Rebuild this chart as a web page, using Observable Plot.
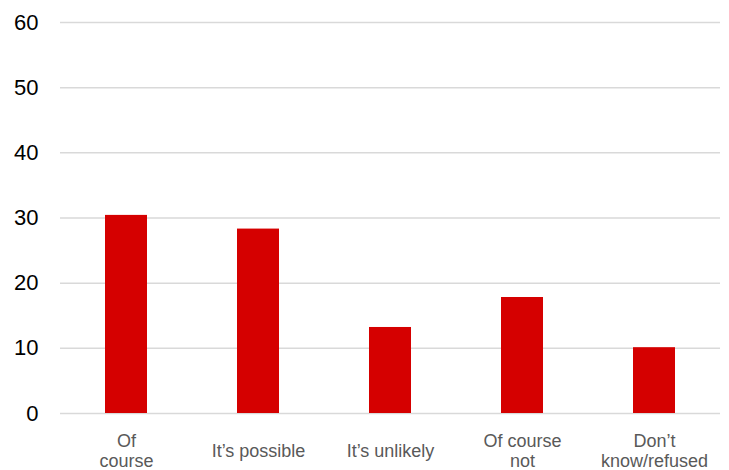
<!DOCTYPE html>
<html>
<head>
<meta charset="utf-8">
<script src="https://cdn.jsdelivr.net/npm/d3@7"></script>
<script src="https://cdn.jsdelivr.net/npm/@observablehq/plot@0.6"></script>
<style>
  html, body { margin: 0; padding: 0; background: #fff; }
</style>
</head>
<body>
<div id="chart"></div>
<script>
// Survey answers and their shares (%)
const categories = ["Of\ncourse", "It’s possible", "It’s unlikely", "Of course\nnot", "Don’t\nknow/refused"];
const values = [30.4, 28.3, 13.2, 17.8, 10.1];
const yTicks = [0, 10, 20, 30, 40, 50, 60];

const data = categories.map((c, i) => ({category: c, value: values[i]}));

const chart = Plot.plot({
  width: 729,
  height: 470,
  marginLeft: 60,
  marginRight: 9,
  marginTop: 22,
  marginBottom: 57,
  style: {fontFamily: "'Liberation Sans', Arial, sans-serif", background: "#fff", overflow: "visible"},
  x: {domain: categories, paddingInner: 0.68, paddingOuter: 0.34, label: null},
  y: {domain: [0, 60], ticks: yTicks, label: null},
  marks: [
    Plot.gridY(yTicks, {stroke: "#d9d9d9", strokeOpacity: 1, strokeWidth: 1.5}),
    Plot.barY(data, {x: "category", y: "value", fill: "#d50000"}),
    Plot.axisY(yTicks, {tickSize: 0, tickPadding: 22, fontSize: 22, fill: "#000", label: null}),
    Plot.axisX({tickSize: 0, tickPadding: 37, lineAnchor: "middle", fontSize: 18, lineHeight: 1.1, fill: "#595959", label: null})
  ]
});

document.getElementById("chart").append(chart);
</script>
</body>
</html>
